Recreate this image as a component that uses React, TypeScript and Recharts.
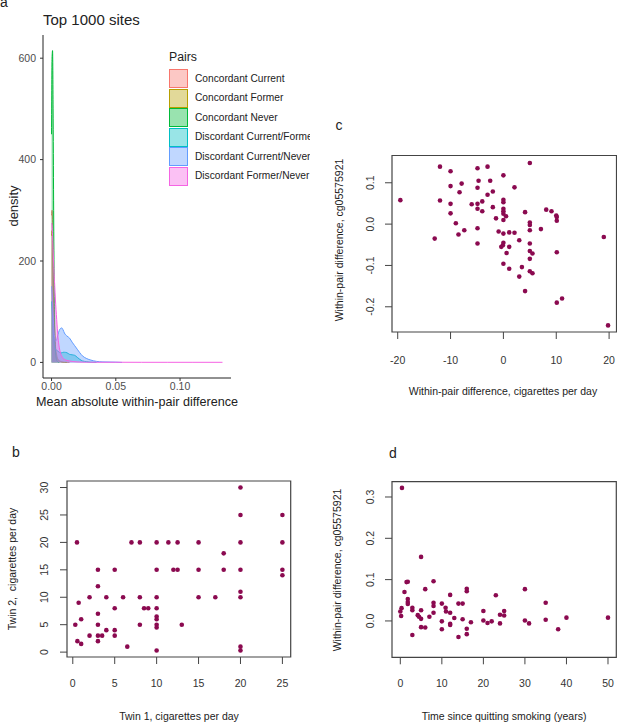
import React from 'react';
import {
  Area,
  AreaChart,
  ReferenceArea,
  Scatter,
  ScatterChart,
  XAxis,
  YAxis,
} from 'recharts';

const FONT = '"Liberation Sans", Arial, sans-serif';
const DOT = '#8B0A50';
const BOX = '#444';

// panel a: density of mean absolute within-pair difference
const densX = [0, 0.0004, 0.0008, 0.0012, 0.0016, 0.002, 0.0025, 0.003, 0.004, 0.005, 0.006, 0.007, 0.008, 0.009, 0.01, 0.012, 0.014, 0.016, 0.018, 0.02, 0.022, 0.024, 0.027, 0.03, 0.035, 0.04, 0.05, 0.055, 0.07, 0.09, 0.11, 0.133];
const N = null;
const concCurrent = [290, 300, 270, 200, 130, 80, 45, 25, 10, 5, 3, 2, 1, 0.5, 0.3, 0.1, 0, N, N, N, N, N, N, N, N, N, N, N, N, N, N, N];
const concFormer = [250, 260, 240, 190, 140, 95, 60, 35, 15, 6, 3, 2, 1, 0.5, 0.2, 0, N, N, N, N, N, N, N, N, N, N, N, N, N, N, N, N];
const concNever = [450, 600, 615, 500, 320, 170, 70, 25, 5, 1, 0, N, N, N, N, N, N, N, N, N, N, N, N, N, N, N, N, N, N, N, N, N];
const discCurFor = [120, 110, 90, 70, 50, 38, 30, 26, 24, 22, 20, 19, 19, 20, 20, 19, 16, 15, 14, 10, 6, 3, 1.5, 0.5, 0, N, N, N, N, N, N, N];
const discCurNev = [150, 140, 120, 95, 75, 58, 48, 42, 45, 55, 63, 67, 68, 64, 58, 52, 48, 40, 33, 26, 19, 13, 8, 5, 2, 1, 0.5, 0, N, N, N, N];
const discForNev = [275, 270, 250, 225, 200, 175, 150, 125, 85, 50, 30, 18, 12, 8, 6, 4, 3, 2, 1.5, 1, 0.8, 0.6, 0.5, 0.4, 0.3, 0.3, 0.3, 0.3, 0.2, 0.2, 0.2, 0.2];

const pairs = [
  { key: 'cc', name: 'Concordant Current', color: '#F8766D', values: concCurrent },
  { key: 'cf', name: 'Concordant Former', color: '#B79F00', values: concFormer },
  { key: 'cn', name: 'Concordant Never', color: '#00BA38', values: concNever },
  { key: 'dcf', name: 'Discordant Current/Former', color: '#00BFC4', values: discCurFor },
  { key: 'dcn', name: 'Discordant Current/Never', color: '#619CFF', values: discCurNev },
  { key: 'dfn', name: 'Discordant Former/Never', color: '#F564E3', values: discForNev },
];

const densityTable = densX.map((x, i) => {
  const row: Record<string, number | null> = { x };
  pairs.forEach((p) => (row[p.key] = p.values[i]));
  return row;
});

// panel b: twin 1 vs twin 2 cigarettes per day
const twin1 = [0.3, 0.55, 0.5, 0.7, 1, 1, 2, 2, 3, 3, 3, 3, 3, 3, 3.5, 4, 4, 5, 5, 5, 5, 6, 6.5, 7, 8, 8, 8, 8.5, 9, 10, 10, 10, 10, 10, 10, 10, 10, 10, 11.4, 12, 12.5, 12.5, 13, 15, 15, 15, 17, 18, 18, 20, 20, 20, 20, 20, 20, 20, 20, 25, 25, 25, 25];
const twin2 = [5, 2, 20, 9, 6, 1.5, 10, 3, 15, 12, 7, 5, 3, 2, 3, 10, 4, 15, 8, 4, 3, 10, 1, 20, 20, 10, 5, 8, 8, 20, 15, 10, 8, 6.5, 6, 5, 4.5, 0.3, 20, 15, 20, 15, 5, 20, 15, 10, 10, 18, 15, 30, 25, 20, 15, 11, 10, 1, 0.3, 25, 20, 15, 14];

// panel c: within-pair difference in cigarettes vs methylation
const cigDiff = [-19.5, -13, -12, -12, -10, -10, -10, -10, -9, -8.5, -8.3, -7.9, -7.4, -6, -4.9, -4.9, -4.9, -4.9, -4.9, -4.9, -4.7, -4, -4, -3, -3, -2.5, -2, -2, -1.4, -0.9, -0.4, -0.1, 0, 0, 0, 0, 0, 0, 0, 0, 0, 0, 0.5, 0.6, 1.1, 1.1, 1.1, 2.1, 2.1, 3, 3, 3.5, 4.1, 4.1, 5, 5, 5, 5, 5, 5, 5, 5, 5.5, 5.5, 7.1, 8.1, 9.1, 10, 10.1, 10.1, 10.1, 10.1, 11.1, 19, 19.8];
const methDiffC = [0.058, -0.035, 0.139, 0.057, 0.128, 0.092, 0.049, 0.026, 0.002, -0.025, 0.077, 0.098, -0.015, 0.048, 0.135, 0.088, 0.049, 0.037, -0.01, -0.047, 0.105, 0.055, 0.031, 0.139, 0.071, 0.105, 0.079, 0.041, 0.014, -0.018, -0.055, -0.051, 0.118, 0.059, 0.053, 0.037, 0.031, 0.025, 0.01, -0.023, -0.045, -0.096, 0.019, -0.07, -0.02, -0.055, -0.108, 0.089, -0.021, -0.039, -0.127, -0.104, 0.029, -0.162, 0.148, 0.004, -0.002, -0.015, -0.047, -0.065, -0.084, -0.114, -0.071, -0.119, -0.012, 0.035, 0.031, 0.021, 0.017, 0.008, -0.068, -0.19, -0.18, -0.031, -0.245];

// panel d: years since quitting vs methylation difference
const yearsQuit = [0.4, 0, 0.2, 0.3, 1, 1.5, 1.8, 1.8, 1.8, 1.8, 2.9, 2.9, 2.9, 4.2, 4.5, 5, 5, 5, 5, 6, 6, 7, 8, 8, 8, 8, 10, 10, 10, 10.9, 11, 12, 12, 12, 12, 13, 14, 14, 15, 15, 16, 16, 16, 16, 17, 20, 20, 21, 22, 23, 24, 24, 25, 25, 30, 30, 31, 35, 35, 38, 40, 50];
const methDiffD = [0.322, 0.023, 0.012, 0.031, 0.07, 0.094, 0.095, 0.053, 0.046, 0.041, 0.032, 0.026, -0.034, 0.014, 0.01, 0.026, 0.005, -0.015, 0.155, 0.077, -0.016, 0.01, 0.096, 0.044, 0.036, 0.02, 0.042, -0.001, -0.02, 0.032, 0.023, 0.063, 0.02, -0.007, -0.01, 0.007, 0.042, -0.039, 0.042, 0.004, 0.078, 0.072, -0.019, -0.032, -0.003, 0.024, 0.001, -0.005, -0.001, 0.062, 0.015, -0.006, 0.024, 0.013, 0.077, 0.001, -0.006, 0.044, 0.003, -0.02, 0.008, 0.008];

const zip = (xs: number[], ys: number[]) => xs.map((x, i) => ({ x, y: ys[i] }));

function Label({
  x, y, children, size = 10.5, rot = false, left = false, color = '#222',
}: {
  x: number; y: number; children: React.ReactNode; size?: number; rot?: boolean; left?: boolean; color?: string;
}) {
  return (
    <div
      style={{
        position: 'absolute',
        left: x,
        top: y,
        transform: `translate(${left ? '0' : '-50%'}, -50%)${rot ? ' rotate(-90deg)' : ''}`,
        whiteSpace: 'nowrap',
        fontSize: size,
        lineHeight: 1,
        color,
      }}
    >
      {children}
    </div>
  );
}

const xTick = (off: number, fmt: (v: number) => string) => (p: any) => (
  <text x={p.x} y={p.y + off} textAnchor="middle" dominantBaseline="central" fontSize={10.5} fill="#333" fontFamily={FONT}>
    {fmt(p.payload.value)}
  </text>
);

const yTick = (off: number, fmt: (v: number) => string) => (p: any) => {
  const cx = p.x - off;
  return (
    <text x={cx} y={p.y} transform={`rotate(-90 ${cx} ${p.y})`} textAnchor="middle" dominantBaseline="central" fontSize={10.5} fill="#333" fontFamily={FONT}>
      {fmt(p.payload.value)}
    </text>
  );
};

const dotShape = (p: any) => <circle cx={p.cx} cy={p.cy} r={2.3} fill={DOT} />;

function BasePlot({
  data, width, height, margin, yWidth, xHeight, xDomain, yDomain, xTicks, yTicks, xFmt, yFmt, xOff, yOff,
}: {
  data: { x: number; y: number }[];
  width: number; height: number;
  margin: { top: number; right: number; bottom: number; left: number };
  yWidth: number; xHeight: number;
  xDomain: [number, number]; yDomain: [number, number];
  xTicks: number[]; yTicks: number[];
  xFmt: (v: number) => string; yFmt: (v: number) => string;
  xOff: number; yOff: number;
}) {
  return (
    <ScatterChart width={width} height={height} margin={margin}>
      <XAxis
        type="number" dataKey="x" domain={xDomain} ticks={xTicks} allowDataOverflow
        height={xHeight} axisLine={false} tickSize={7} tickMargin={2}
        tickLine={{ stroke: BOX }} tick={xTick(xOff, xFmt)} interval={0}
      />
      <YAxis
        type="number" dataKey="y" domain={yDomain} ticks={yTicks} allowDataOverflow
        width={yWidth} axisLine={false} tickSize={7} tickMargin={2}
        tickLine={{ stroke: BOX }} tick={yTick(yOff, yFmt)} interval={0}
      />
      <ReferenceArea
        x1={xDomain[0]} x2={xDomain[1]} y1={yDomain[0]} y2={yDomain[1]}
        fill="none" stroke={BOX} strokeWidth={1.2} ifOverflow="visible"
      />
      <Scatter data={data} shape={dotShape} isAnimationActive={false} />
    </ScatterChart>
  );
}

export default function App() {
  return (
    <div
      style={{
        position: 'absolute', left: 0, top: 0, width: 617, height: 722,
        overflow: 'hidden', background: '#fff', fontFamily: FONT, color: '#222',
      }}
    >
      {/* panel a */}
      <div style={{ position: 'absolute', left: 0, top: 0, width: 310, height: 420, overflow: 'hidden' }}>
        <AreaChart width={310} height={420} data={densityTable} margin={{ top: 35, right: 79, bottom: 0, left: 0 }}>
          <XAxis
            type="number" dataKey="x" domain={[-0.00665, 0.13965]} ticks={[0, 0.05, 0.1]} allowDataOverflow
            height={42} tickSize={3} tickMargin={2}
            axisLine={{ stroke: '#222' }} tickLine={{ stroke: '#333' }}
            tick={{ fontSize: 10.5, fill: '#4D4D4D', fontFamily: FONT }}
            tickFormatter={(v: number) => v.toFixed(2)} interval={0}
          />
          <YAxis
            type="number" domain={[-30.75, 645.75]} ticks={[0, 200, 400, 600]} allowDataOverflow
            width={43} tickSize={3} tickMargin={4}
            axisLine={{ stroke: '#222' }} tickLine={{ stroke: '#333' }}
            tick={{ fontSize: 10.5, fill: '#4D4D4D', fontFamily: FONT }} interval={0}
          />
          {pairs.map((p) => (
            <Area
              key={p.key} dataKey={p.key} type="monotone" baseValue={0}
              stroke={p.color} strokeWidth={1} fill={p.color} fillOpacity={0.4}
              dot={false} activeDot={false} isAnimationActive={false}
            />
          ))}
        </AreaChart>
        <Label x={0} y={2} size={14} left>a</Label>
        <Label x={43} y={19} size={15} left>Top 1000 sites</Label>
        <Label x={13} y={206} size={13} rot>density</Label>
        <Label x={137} y={402} size={12.6}>Mean absolute within-pair difference</Label>
        <Label x={169} y={57} size={12.3} left>Pairs</Label>
        {pairs.map((p, i) => (
          <React.Fragment key={p.key}>
            <div
              style={{
                position: 'absolute', left: 168.5, top: 69 + i * 19.5, width: 17, height: 17,
                background: p.color + '66', border: `1px solid ${p.color}`,
              }}
            />
            <Label x={195} y={78.5 + i * 19.5} size={10.2} left>{p.name}</Label>
          </React.Fragment>
        ))}
      </div>

      {/* panel c */}
      <div style={{ position: 'absolute', left: 310, top: 100 }}>
        <BasePlot
          data={zip(cigDiff, methDiffC)} width={310} height={300}
          margin={{ top: 55.5, right: 3.5, bottom: 0, left: 0 }} yWidth={82} xHeight={68}
          xDomain={[-21.08, 21.4]} yDomain={[-0.261, 0.166]}
          xTicks={[-20, -10, 0, 10, 20]} yTicks={[-0.2, -0.1, 0, 0.1]}
          xFmt={(v) => String(v)} yFmt={(v) => v.toFixed(1)} xOff={19} yOff={13}
        />
      </div>
      <Label x={339} y={125} size={14}>c</Label>
      <Label x={339} y={240} rot>Within-pair difference, cg05575921</Label>
      <Label x={503} y={391}>Within-pair difference, cigarettes per day</Label>

      {/* panel b */}
      <div style={{ position: 'absolute', left: 0, top: 420 }}>
        <BasePlot
          data={zip(twin1, twin2)} width={310} height={302}
          margin={{ top: 61, right: 19.3, bottom: 0, left: 0 }} yWidth={67} xHeight={65}
          xDomain={[-0.69, 25.99]} yDomain={[-0.89, 31.19]}
          xTicks={[0, 5, 10, 15, 20, 25]} yTicks={[0, 5, 10, 15, 20, 25, 30]}
          xFmt={(v) => String(v)} yFmt={(v) => String(v)} xOff={17.3} yOff={14.4}
        />
      </div>
      <Label x={16} y={452} size={14}>b</Label>
      <Label x={12} y={569} rot>Twin 2,&nbsp; cigarettes per day</Label>
      <Label x={179} y={716}>Twin 1, cigarettes per day</Label>

      {/* panel d */}
      <div style={{ position: 'absolute', left: 310, top: 420 }}>
        <BasePlot
          data={zip(yearsQuit, methDiffD)} width={310} height={302}
          margin={{ top: 61.7, right: 3.7, bottom: 0, left: 0 }} yWidth={82} xHeight={64.7}
          xDomain={[-2, 52]} yDomain={[-0.088, 0.337]}
          xTicks={[0, 10, 20, 30, 40, 50]} yTicks={[0, 0.1, 0.2, 0.3]}
          xFmt={(v) => String(v)} yFmt={(v) => v.toFixed(1)} xOff={16.7} yOff={12.7}
        />
      </div>
      <Label x={393} y={453} size={14}>d</Label>
      <Label x={337} y={570} rot>Within-pair difference, cg05575921</Label>
      <Label x={504} y={716}>Time since quitting smoking (years)</Label>
    </div>
  );
}
